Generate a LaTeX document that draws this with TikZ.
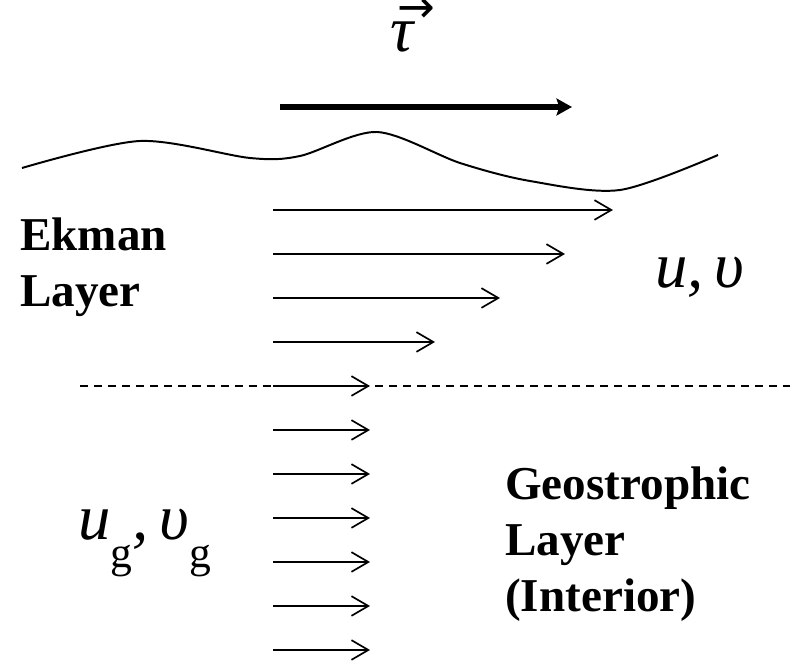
\RequirePackage{fix-cm}
\documentclass[tikz,border=0pt]{standalone}
\usepackage{fontspec}
\setmainfont{Liberation Serif}
\newfontfamily\arrowfont{DejaVu Sans}
\usetikzlibrary{arrows.meta}
\newcommand{\subg}{\raisebox{-0.42em}{\fontsize{31}{31}\selectfont\upshape g}}
\newcommand{\vecarrow}{\makebox[0pt][l]{\hspace{5pt}\raisebox{21pt}{\fontsize{32}{32}\selectfont\arrowfont →}}}
\tikzset{
  vel/.style={line width=1.2pt, -{Straight Barb[length=12pt, width=14pt]}},
  layertext/.style={anchor=base west, inner sep=0pt, align=left,
    font=\fontsize{33.5}{40}\selectfont\bfseries},
  velmath/.style={anchor=base west, inner sep=0pt, font=\fontsize{46}{50}\selectfont\itshape}
}
\begin{document}
\begin{tikzpicture}[x=0.025cm, y=-0.025cm]
        \useasboundingbox (0,0) rectangle (792,661);
        % wind stress
        \node[velmath] (tau) at (390,52) {\vecarrow τ};
        \coordinate (ts) at (280,107);
        \coordinate (te) at (572,107);
        \draw[line width=4pt, -{Stealth[length=11pt, width=12pt, inset=2pt]}] (ts) -- (te);
        % sea surface
        \draw[line width=1.4pt] plot[smooth] coordinates {(22,168) (140,141) (250,158) (300,156)
          (377,132) (460,163) (530,181) (620,190) (718,155)};
        % base of the Ekman layer
        \coordinate (dl) at (80,386);
        \coordinate (dr) at (790,386);
        \draw[line width=1pt, dash pattern=on 5.7pt off 4.3pt] (dl) -- (dr);
        % velocity profile
        \foreach \y/\e [count=\i] in {210/613, 254/565, 298/500, 342/435, 386/370,
          430/370, 474/370, 518/370, 562/370, 606/370, 650/370} {
                \coordinate (s\i) at (273,\y);
                \coordinate (e\i) at (\e,\y);
                \draw[vel] (s\i) -- (e\i);
        }
        \node[layertext] (ekman) at (20,307) {Ekman\\Layer};
        \node[layertext] (geo) at (505,612) {Geostrophic\\Layer\\(Interior)};
        \node[velmath] (uv) at (655,288) {u,\,υ};
        \node[velmath] (uvg) at (78,540) {u\subg,\,υ\subg};
\end{tikzpicture}
\end{document}
